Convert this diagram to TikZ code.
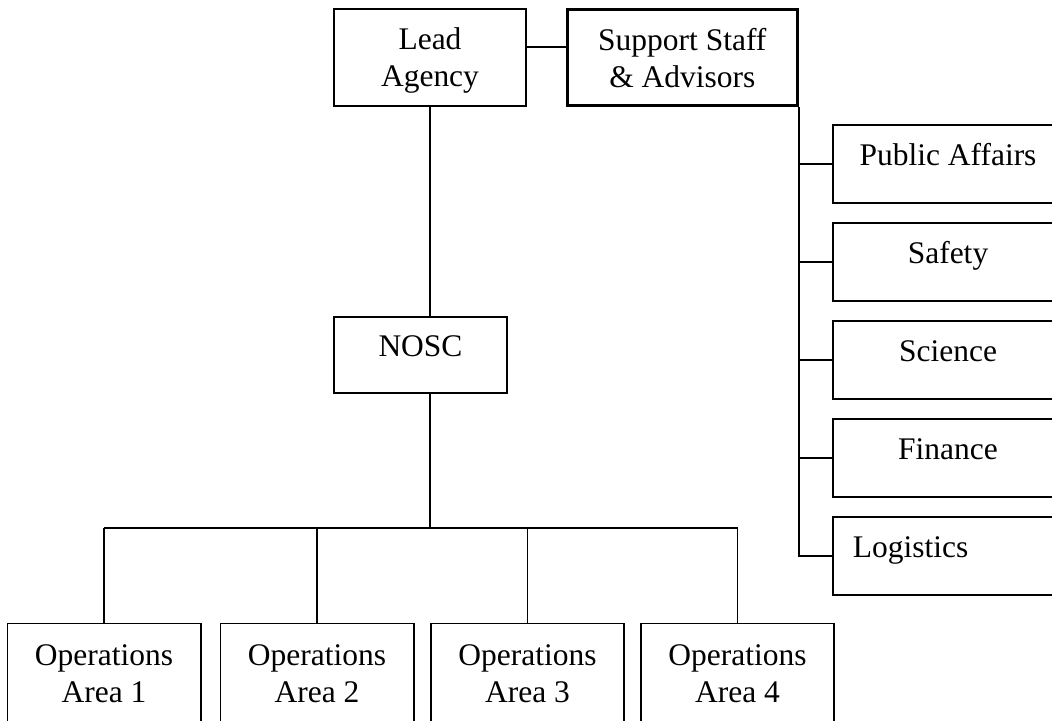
\documentclass[tikz,border=0pt]{standalone}
\usepackage{fontspec}
\setmainfont{Liberation Serif}
\usetikzlibrary{positioning,calc}
\tikzset{orgbox/.style={draw, line width=0.75pt, inner sep=0pt, align=center, font=\fontsize{12}{14.1}\selectfont}}
\tikzset{twoline/.style={orgbox, text depth=0pt}}
\tikzset{oneline/.style={orgbox, text height=0.7em, text depth=0.6em}}
\tikzset{sidebox/.style={oneline, minimum width=3.082cm, minimum height=1.045cm}}
\tikzset{opbox/.style={twoline, minimum width=2.586cm, minimum height=1.34cm}}
\tikzset{conn/.style={draw, line width=0.75pt}}

\begin{document}
\begin{tikzpicture}[x=0.0134cm, y=-0.0134cm]
			\useasboundingbox (0,0) rectangle (1052,721);
			\clip (0,0) rectangle (1052,721);
			\node[twoline, minimum width=2.573cm, minimum height=1.3cm] (lead) at (430,57.5) {Lead\\Agency};
			\node[twoline, minimum width=3.082cm, minimum height=1.286cm, line width=1.1pt, right=0.52cm of lead] (staff) {Support Staff\\\& Advisors};
			\node[oneline, minimum width=2.318cm, minimum height=1.018cm] (nosc) at (420.5,355) {NOSC};
			%
			\node[sidebox] (pa) at (948,164) {Public Affairs};
			\node[sidebox, below=0.241cm of pa] (safety) {Safety};
			\node[sidebox, below=0.241cm of safety] (science) {Science};
			\node[sidebox, below=0.241cm of science] (finance) {Finance};
			\node[sidebox, below=0.241cm of finance, align=left, inner xsep=0.268cm, text width=2.546cm] (logist) {Logistics};
			%
			\foreach \x/\n in {104/1, 317/2, 527.5/3, 737.5/4}
				\node[opbox] (op\n) at (\x,673.5) {Operations\\Area \n};
			%
			\draw[conn] ([yshift=4pt]lead.east) -- ([yshift=4pt]lead.east -| staff.west);
			\draw[conn] (lead.south) -- (lead.south |- nosc.north);
			\coordinate (bus) at (430,528);
			\draw[conn] (lead.south |- nosc.south) -- (bus);
			\draw[conn] (op1.north |- bus) -- (op4.north |- bus);
			\foreach \n in {1,...,4}
				\draw[conn] (op\n.north |- bus) -- (op\n.north);
			%
			\draw[conn] (staff.south east) |- (logist.west);
			\foreach \b in {pa, safety, science, finance}
				\draw[conn] (staff.south east |- \b.west) -- (\b.west);
		\end{tikzpicture}
\end{document}
